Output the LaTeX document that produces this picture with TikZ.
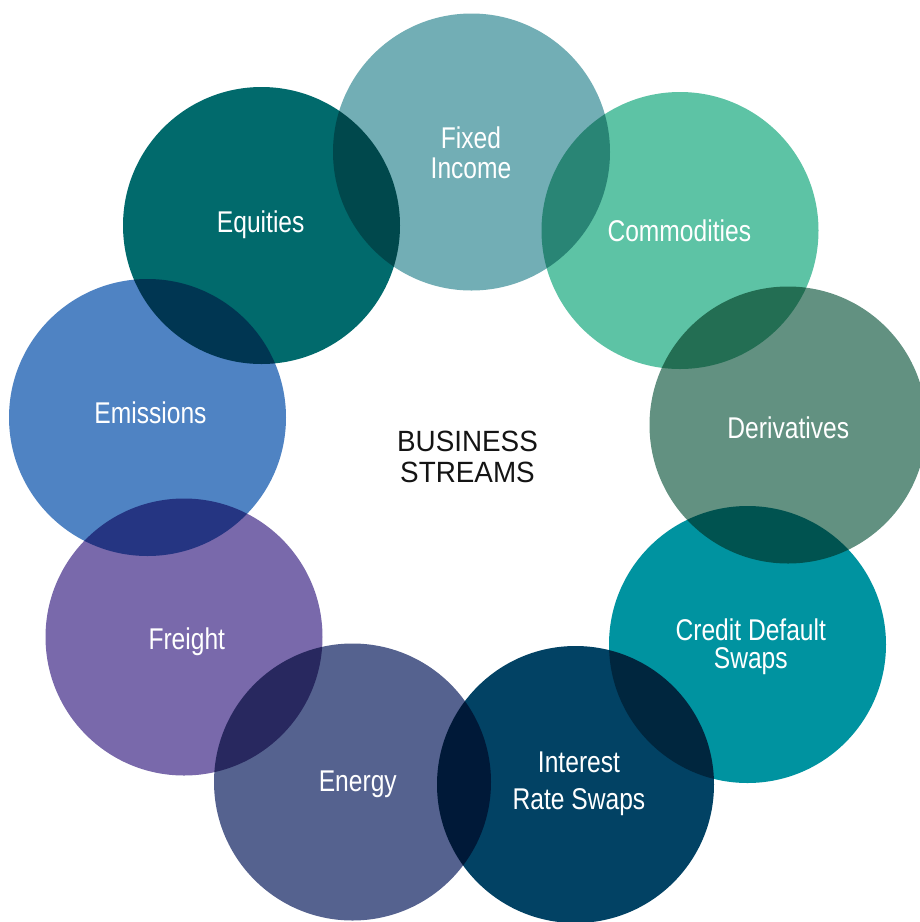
\documentclass[tikz,border=0pt]{standalone}
\usepackage{fontspec}
\newfontfamily\lblfont{Liberation Sans}[FakeStretch=0.82]
\newfontfamily\hubfont{Liberation Sans}[FakeStretch=0.95]
\definecolor{cFixed}{HTML}{72AEB5}
\definecolor{cCommod}{HTML}{5DC3A5}
\definecolor{cDeriv}{HTML}{629181}
\definecolor{cCDS}{HTML}{0093A0}
\definecolor{cIRS}{HTML}{024264}
\definecolor{cEnergy}{HTML}{55628F}
\definecolor{cFreight}{HTML}{7969AB}
\definecolor{cEmis}{HTML}{4F83C3}
\definecolor{cEquity}{HTML}{016A6C}
\definecolor{cHub}{HTML}{141414}
\begin{document}
\begin{tikzpicture}[x=1pt,y=-1pt,
  ring/.style={circle, draw=none, inner sep=0pt, minimum size=277pt},
  lbl/.style={text=white, align=center, anchor=base, inner sep=0pt},
  lblone/.style={lbl, font=\lblfont\fontsize{30}{30}\selectfont},
]
\useasboundingbox (0,0) rectangle (920,922);
\fill[white] (0,0) rectangle (920,922);

% the ring of streams; overlaps darken by multiplying
\begin{scope}[blend group=multiply]
  \node[ring, fill=cFixed]   (fixed)   at (471.5,152)   {};
  \node[ring, fill=cCommod]  (commod)  at (680,230.5)   {};
  \node[ring, fill=cDeriv]   (deriv)   at (788,425)     {};
  \node[ring, fill=cCDS]     (cds)     at (747.5,644.5) {};
  \node[ring, fill=cIRS]     (irs)     at (575.5,784.5) {};
  \node[ring, fill=cEnergy]  (energy)  at (352.5,782)   {};
  \node[ring, fill=cFreight] (freight) at (184,637)     {};
  \node[ring, fill=cEmis]    (emis)    at (147.5,417.5) {};
  \node[ring, fill=cEquity]  (equity)  at (261.5,225.5) {};
\end{scope}

% stream names (multi-line nodes sit on the baseline of their last line)
\node[lbl, font=\lblfont\fontsize{30}{30}\selectfont] (tfixed) at (471,178.3) {Fixed\\Income};
\node[lblone] (tcommod)  at (679.3,241.3) {Commodities};
\node[lblone] (tderiv)   at (788.3,438.3) {Derivatives};
\node[lbl, font=\lblfont\fontsize{30}{28}\selectfont] (tcds) at (750.8,668.8) {Credit Default\\Swaps};
\node[lbl, font=\lblfont\fontsize{30}{36.6}\selectfont] (tirs) at (579,809.3) {Interest\\Rate Swaps};
\node[lblone] (tenergy)  at (357.8,791.7) {Energy};
\node[lblone] (tfreight) at (186.8,649)   {Freight};
\node[lblone] (temis)    at (150.5,423.3) {Emissions};
\node[lblone] (tequity)  at (260.7,232.7) {Equities};

% centre title
\node[text=cHub, align=center, anchor=base, inner sep=0pt,
      font=\hubfont\fontsize{29.3}{31}\selectfont] (hub) at (467.5,482.7) {BUSINESS\\STREAMS};
\end{tikzpicture}
\end{document}
